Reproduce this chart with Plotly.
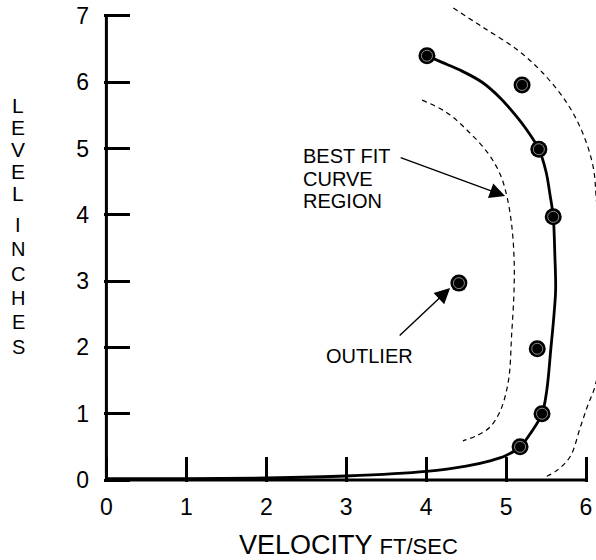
import plotly.graph_objects as go

# Measured velocity profile (ft/sec) against water level (inches)
obs_velocity = [4.01, 5.20, 5.41, 5.59, 4.41, 5.39, 5.45, 5.175]
obs_level = [6.40, 5.96, 4.99, 3.97, 2.97, 1.98, 1.00, 0.50]

# Hand-fitted best-fit curve
fit_velocity = [0.0, 1.0, 2.0, 3.0, 4.0, 4.5, 4.8, 5.0, 5.175, 5.32, 5.45, 5.51,
                5.56, 5.60, 5.62, 5.61, 5.59, 5.55, 5.50, 5.41, 5.26, 5.12, 4.93,
                4.70, 4.43, 4.20, 4.01]
fit_level = [0.02, 0.02, 0.03, 0.06, 0.13, 0.21, 0.29, 0.37, 0.50, 0.73, 1.00, 1.36,
             1.98, 2.50, 2.87, 3.40, 3.97, 4.30, 4.65, 4.99, 5.28, 5.50, 5.76,
             6.00, 6.18, 6.30, 6.40]

# Bounds of the best-fit region
inner_velocity = [3.95, 4.25, 4.51, 4.78, 4.93, 5.01, 5.07, 5.10, 5.10, 5.07,
                  5.03, 4.93, 4.80, 4.65, 4.46]
inner_level = [5.73, 5.55, 5.28, 4.92, 4.60, 4.28, 3.85, 3.35, 2.87, 2.20,
               1.50, 1.05, 0.80, 0.68, 0.59]
outer_velocity = [4.34, 4.71, 5.14, 5.46, 5.76, 5.96, 6.09, 6.13, 6.18, 6.20,
                  6.17, 6.11, 6.02, 5.93, 5.80, 5.62, 5.46]
outer_level = [7.12, 6.83, 6.49, 6.14, 5.69, 5.23, 4.72, 4.22, 3.50, 2.50,
               1.80, 1.40, 1.12, 0.80, 0.35, 0.13, 0.03]

x_ticks = [0, 1, 2, 3, 4, 5, 6]
y_ticks = [0, 1, 2, 3, 4, 5, 6, 7]

FONT = "Liberation Sans, Arial, sans-serif"
W, H = 596, 560
PX_X = 80.0      # pixels per ft/sec
PX_Y = 66.29     # pixels per inch
X0, Y0 = 106.0, 480.0  # pixel position of the origin


def xd(px):
    return (px - X0) / PX_X


def yd(py):
    return (Y0 - py) / PX_Y


x_lo, x_hi = -0.03, xd(W)
y_lo, y_hi = yd(482), yd(0)
left = X0 + x_lo * PX_X
plot_w = W - left
plot_bottom_px = Y0 - y_lo * PX_Y
bottom = H - plot_bottom_px
plot_h = plot_bottom_px


def xp(px):
    return (px - left) / plot_w


def yp(py):
    return (plot_bottom_px - py) / plot_h


fig = go.Figure()

dash = "5px,4px"
fig.add_trace(go.Scatter(x=inner_velocity, y=inner_level, mode="lines",
                         line=dict(color="black", width=1.2, dash=dash, shape="spline"),
                         hoverinfo="skip"))
fig.add_trace(go.Scatter(x=outer_velocity, y=outer_level, mode="lines",
                         line=dict(color="black", width=1.2, dash=dash, shape="spline"),
                         hoverinfo="skip"))
fig.add_trace(go.Scatter(x=fit_velocity, y=fit_level, mode="lines",
                         line=dict(color="black", width=2.8, shape="spline"),
                         hoverinfo="skip"))
fig.add_trace(go.Scatter(x=obs_velocity, y=obs_level, mode="markers",
                         marker=dict(size=17, color="black", line=dict(width=0)),
                         cliponaxis=False))
fig.add_trace(go.Scatter(x=obs_velocity, y=obs_level, mode="markers",
                         marker=dict(size=11, symbol="circle-open", color="#8a8a8a",
                                     line=dict(width=1)),
                         cliponaxis=False, hoverinfo="skip"))

# Axis lines stop at the last tick
fig.add_shape(type="line", x0=0, x1=x_ticks[-1], y0=0, y1=0, xref="x", yref="y",
              line=dict(color="black", width=3), layer="above")
fig.add_shape(type="line", x0=0, x1=0, y0=0, y1=y_ticks[-1], xref="x", yref="y",
              line=dict(color="black", width=3), layer="above")

ann = []
# Vertical axis title, one letter per line
word1 = "LEVEL"
word2 = "INCHES"
for i, ch in enumerate(word1):
    ann.append(dict(x=xp(18), y=yp(105 + 22 * i), xref="paper", yref="paper", text=ch,
                    showarrow=False, font=dict(family=FONT, size=21, color="black"),
                    xanchor="center", yanchor="middle", height=20))
for i, ch in enumerate(word2):
    ann.append(dict(x=xp(18), y=yp(225 + 24.3 * i), xref="paper", yref="paper", text=ch,
                    showarrow=False, font=dict(family=FONT, size=20, color="black"),
                    xanchor="center", yanchor="middle", height=20))

# Horizontal axis title
ann.append(dict(x=xp(348.5), y=yp(545), xref="paper", yref="paper",
                text="VELOCITY <span style='font-size:22px'>FT/SEC</span>",
                showarrow=False, font=dict(family=FONT, size=27, color="black"),
                xanchor="center", yanchor="middle", height=24))

# Region label and its arrow
for i, line in enumerate(["BEST FIT", "CURVE", "REGION"]):
    ann.append(dict(x=xp(301), y=yp(156.5 + 22.3 * i), xref="paper", yref="paper",
                    text=line, showarrow=False,
                    font=dict(family=FONT, size=20, color="black"),
                    xanchor="left", yanchor="middle", height=20))
ann.append(dict(x=xd(505), y=yd(196), ax=xd(399), ay=yd(157), xref="x", yref="y",
                axref="x", ayref="y", text="", showarrow=True, arrowhead=2,
                arrowsize=2.2, arrowwidth=1.4, arrowcolor="black"))

# Outlier label and its arrow
ann.append(dict(x=xp(369), y=yp(356), xref="paper", yref="paper", text="OUTLIER",
                showarrow=False, font=dict(family=FONT, size=20, color="black"),
                xanchor="center", yanchor="middle"))
ann.append(dict(x=xd(450), y=yd(288), ax=xd(398), ay=yd(337), xref="x", yref="y",
                axref="x", ayref="y", text="", showarrow=True, arrowhead=2,
                arrowsize=2.2, arrowwidth=1.4, arrowcolor="black"))

fig.update_layout(
    width=W, height=H,
    margin=dict(l=left, r=0, t=0, b=bottom, pad=0),
    paper_bgcolor="white", plot_bgcolor="white",
    showlegend=False,
    font=dict(family=FONT, color="black"),
    annotations=ann,
    xaxis=dict(range=[x_lo, x_hi], tickvals=x_ticks, ticktext=[str(v) for v in x_ticks],
               ticks="inside", ticklen=25, tickwidth=3, tickcolor="black",
               ticklabelstandoff=9,
               showline=False, showgrid=False, zeroline=False,
               tickfont=dict(family=FONT, size=23, color="black")),
    yaxis=dict(range=[y_lo, y_hi], tickvals=y_ticks, ticktext=[str(v) for v in y_ticks],
               ticks="inside", ticklen=26, tickwidth=3, tickcolor="black",
               ticklabelstandoff=14,
               showline=False, showgrid=False, zeroline=False,
               tickfont=dict(family=FONT, size=23, color="black")),
)

fig.write_html("out.html")
